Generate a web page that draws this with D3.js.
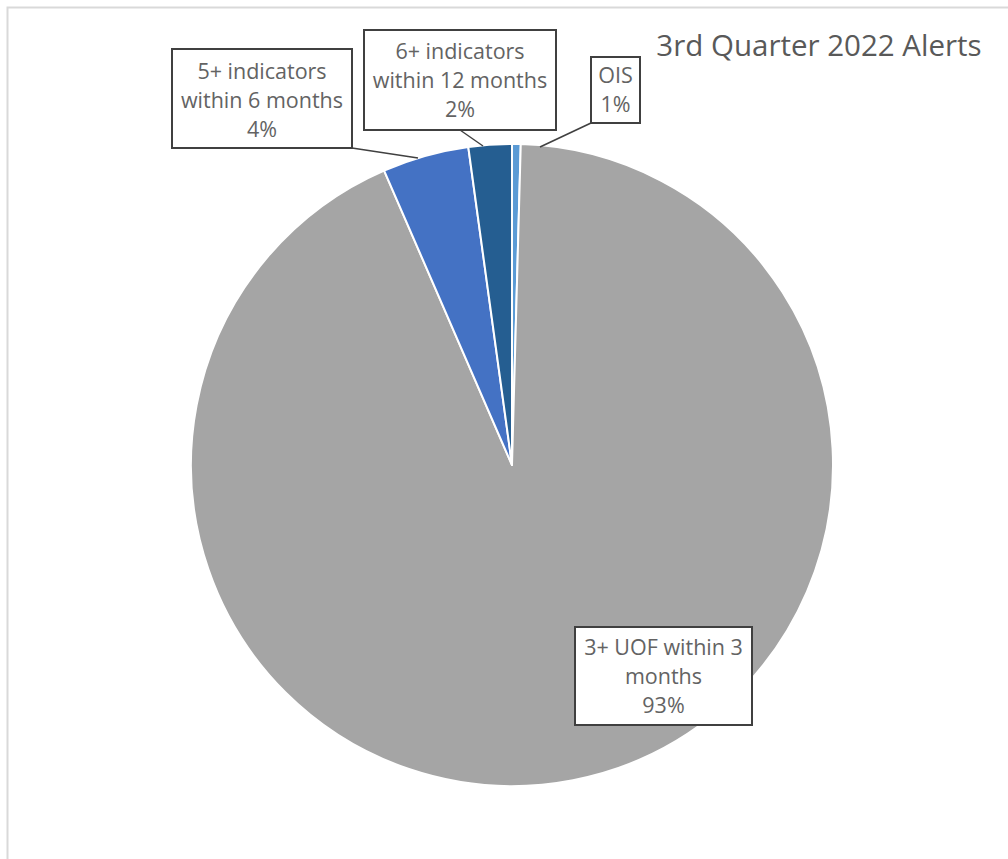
<!DOCTYPE html>
<html>
<head>
<meta charset="utf-8">
<script src="https://cdn.jsdelivr.net/npm/d3@7"></script>
<style>
  html, body { margin: 0; padding: 0; background: #fff; }
  svg { display: block; }
</style>
</head>
<body>
<div id="chart"></div>
<script>
const width = 1008
const height = 859

// data, in the order Excel draws it (clockwise from 12 o'clock)
const categories = ["OIS", "3+ UOF within 3 months", "5+ indicators within 6 months", "6+ indicators within 12 months"]
const counts = [1, 214, 10, 5]
const percentLabels = ["1%", "93%", "4%", "2%"]
const labelLines = [
  ["OIS"],
  ["3+ UOF within 3", "months"],
  ["5+ indicators", "within 6 months"],
  ["6+ indicators", "within 12 months"]
]
const colors = ["#5B9BD5", "#A5A5A5", "#4472C4", "#255E91"]

// label boxes: x, y, w, h, and where the leader line starts / ends
const boxes = [
  {x: 591, y: 57, w: 49, h: 66, from: [591, 123], to: [540, 147]},
  {x: 575, y: 627, w: 177, h: 98, from: null, to: null},
  {x: 172, y: 49, w: 180, h: 99, from: [352, 148], to: [418, 158]},
  {x: 364, y: 30, w: 192, h: 100, from: [460, 130], to: [483, 146]}
]

const cx = 512, cy = 465, r = 321

const svg = d3.select("#chart")
  .append("svg")
  .attr("width", width)
  .attr("height", height)

// chart area border
svg.append("rect")
  .attr("x", 7.5).attr("y", 7.5)
  .attr("width", width + 20).attr("height", height + 20)
  .attr("fill", "none")
  .attr("stroke", "#d9d9d9")
  .attr("stroke-width", 2)

const pie = d3.pie().sort(null).value(d => d)
const arcs = pie(counts)
const arc = d3.arc().innerRadius(0).outerRadius(r)

svg.append("g")
  .attr("transform", `translate(${cx},${cy})`)
  .selectAll("path")
  .data(arcs)
  .join("path")
    .attr("d", arc)
    .attr("fill", (d, i) => colors[i])
    .attr("stroke", "#fff")
    .attr("stroke-width", 2)
    .attr("stroke-linejoin", "round")

// leader lines
svg.append("g")
  .selectAll("line")
  .data(boxes.filter(b => b.from))
  .join("line")
    .attr("x1", d => d.from[0]).attr("y1", d => d.from[1])
    .attr("x2", d => d.to[0]).attr("y2", d => d.to[1])
    .attr("stroke", "#404040")
    .attr("stroke-width", 1.5)

const lab = svg.append("g")
  .selectAll("g")
  .data(categories)
  .join("g")

lab.append("rect")
  .attr("x", (d, i) => boxes[i].x)
  .attr("y", (d, i) => boxes[i].y)
  .attr("width", (d, i) => boxes[i].w)
  .attr("height", (d, i) => boxes[i].h)
  .attr("fill", "#fff")
  .attr("stroke", "#404040")
  .attr("stroke-width", 2)

const lineH = 29
lab.each(function(d, i) {
  const b = boxes[i]
  const lines = labelLines[i].concat([percentLabels[i]])
  const top = b.y + b.h / 2 - (lines.length - 1) * lineH / 2
  d3.select(this).selectAll("text")
    .data(lines)
    .join("text")
      .attr("x", b.x + b.w / 2)
      .attr("y", (t, j) => top + j * lineH + (i == 2 ? 2 : 0))
      .attr("dy", "0.35em")
      .attr("text-anchor", "middle")
      .attr("font-family", "Open Sans, sans-serif")
      .attr("font-size", "21.5px")
      .attr("fill", "#636363")
      .text(t => t)
})

svg.append("text")
  .attr("x", 819)
  .attr("y", 56)
  .attr("text-anchor", "middle")
  .attr("font-family", "Open Sans, sans-serif")
  .attr("font-size", "29.5px")
  .attr("fill", "#595959")
  .text("3rd Quarter 2022 Alerts")
</script>
</body>
</html>
